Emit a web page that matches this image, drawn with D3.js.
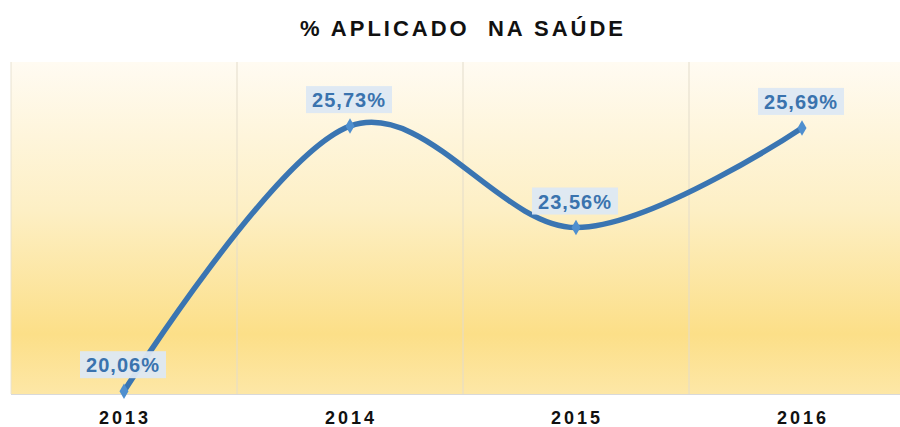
<!DOCTYPE html>
<html>
<head>
<meta charset="utf-8">
<script src="https://cdn.jsdelivr.net/npm/d3@7"></script>
<style>
  body { margin: 0; background: #fff; }
  svg { display: block; }
</style>
</head>
<body>
<div id="chart"></div>
<script>
var years = ["2013", "2014", "2015", "2016"]
var values = [20.06, 25.73, 23.56, 25.69]
var labels = ["20,06%", "25,73%", "23,56%", "25,69%"]

var width = 900, height = 427
var plot = {left: 11, right: 915, top: 62, bottom: 394}

var svg = d3.select("#chart").append("svg")
    .attr("width", width).attr("height", height)

var defs = svg.append("defs")
var grad = defs.append("linearGradient")
    .attr("id", "bg").attr("x1", 0).attr("y1", 0).attr("x2", 0).attr("y2", 1)
grad.append("stop").attr("offset", "0%").attr("stop-color", "#fffbf2")
grad.append("stop").attr("offset", "45%").attr("stop-color", "#fdefc4")
grad.append("stop").attr("offset", "82%").attr("stop-color", "#fcdf88")
grad.append("stop").attr("offset", "100%").attr("stop-color", "#fde7a6")

var x = d3.scaleBand().domain(years).range([plot.left, plot.right])
var y = d3.scaleLinear().domain([20, 27.1]).range([plot.bottom, plot.top])

svg.append("rect")
    .attr("x", plot.left).attr("y", plot.top)
    .attr("width", plot.right - plot.left).attr("height", plot.bottom - plot.top)
    .attr("fill", "url(#bg)")

// vertical separators between categories
svg.append("g").selectAll("line")
    .data(years.slice(1))
    .enter().append("line")
    .attr("x1", d => x(d)).attr("x2", d => x(d))
    .attr("y1", plot.top).attr("y2", plot.bottom)
    .attr("stroke", "#e3dccb").attr("stroke-width", 1)

svg.append("line")
    .attr("x1", plot.left).attr("x2", plot.left)
    .attr("y1", plot.top).attr("y2", plot.bottom)
    .attr("stroke", "#e8e2d2")
svg.append("line")
    .attr("x1", plot.left).attr("x2", width)
    .attr("y1", plot.bottom + 0.5).attr("y2", plot.bottom + 0.5)
    .attr("stroke", "#d9d9d9")

var pts = years.map((d, i) => [x(d) + x.bandwidth() / 2, y(values[i])])

var line = d3.line().curve(d3.curveCardinal.tension(0))

svg.append("path")
    .attr("d", line(pts))
    .attr("fill", "none")
    .attr("stroke", "#3a75b2")
    .attr("stroke-width", 5.5)
    .attr("stroke-linecap", "butt")

svg.append("g").selectAll("path")
    .data(pts)
    .enter().append("path")
    .attr("transform", d => `translate(${d[0]},${d[1]})`)
    .attr("d", d3.symbol().type(d3.symbolDiamond).size(70))
    .attr("fill", "#4f8fcf")

// data labels
var lab = svg.append("g").selectAll("g")
    .data(pts)
    .enter().append("g")
    .attr("transform", d => `translate(${d[0] - 1},${d[1] - 26})`)

lab.append("rect")
    .attr("x", -43).attr("y", -14)
    .attr("width", 86).attr("height", 27)
    .attr("fill", "#dde8f3")
    .attr("opacity", 0.95)

lab.append("text")
    .attr("text-anchor", "middle")
    .attr("dy", "0.36em")
    .attr("font-family", "Liberation Sans, Arial, sans-serif")
    .attr("font-weight", "bold")
    .attr("font-size", 20)
    .attr("letter-spacing", 1)
    .attr("fill", "#3a73ae")
    .text((d, i) => labels[i])

// x axis labels
svg.append("g").selectAll("text")
    .data(years)
    .enter().append("text")
    .attr("x", d => x(d) + x.bandwidth() / 2 + 1)
    .attr("y", 418)
    .attr("dy", "0.35em")
    .attr("text-anchor", "middle")
    .attr("font-family", "Liberation Sans, Arial, sans-serif")
    .attr("font-weight", "bold")
    .attr("font-size", 18)
    .attr("letter-spacing", 3)
    .attr("fill", "#111")
    .text(d => d)

svg.append("text")
    .attr("x", 463).attr("y", 28)
    .attr("dy", "0.35em")
    .attr("text-anchor", "middle")
    .attr("font-family", "Liberation Sans, Arial, sans-serif")
    .attr("font-weight", "bold")
    .attr("font-size", 22)
    .attr("letter-spacing", 3)
    .attr("fill", "#111")
    .attr("xml:space", "preserve")
    .text("% APLICADO  NA SAÚDE")
</script>
</body>
</html>
